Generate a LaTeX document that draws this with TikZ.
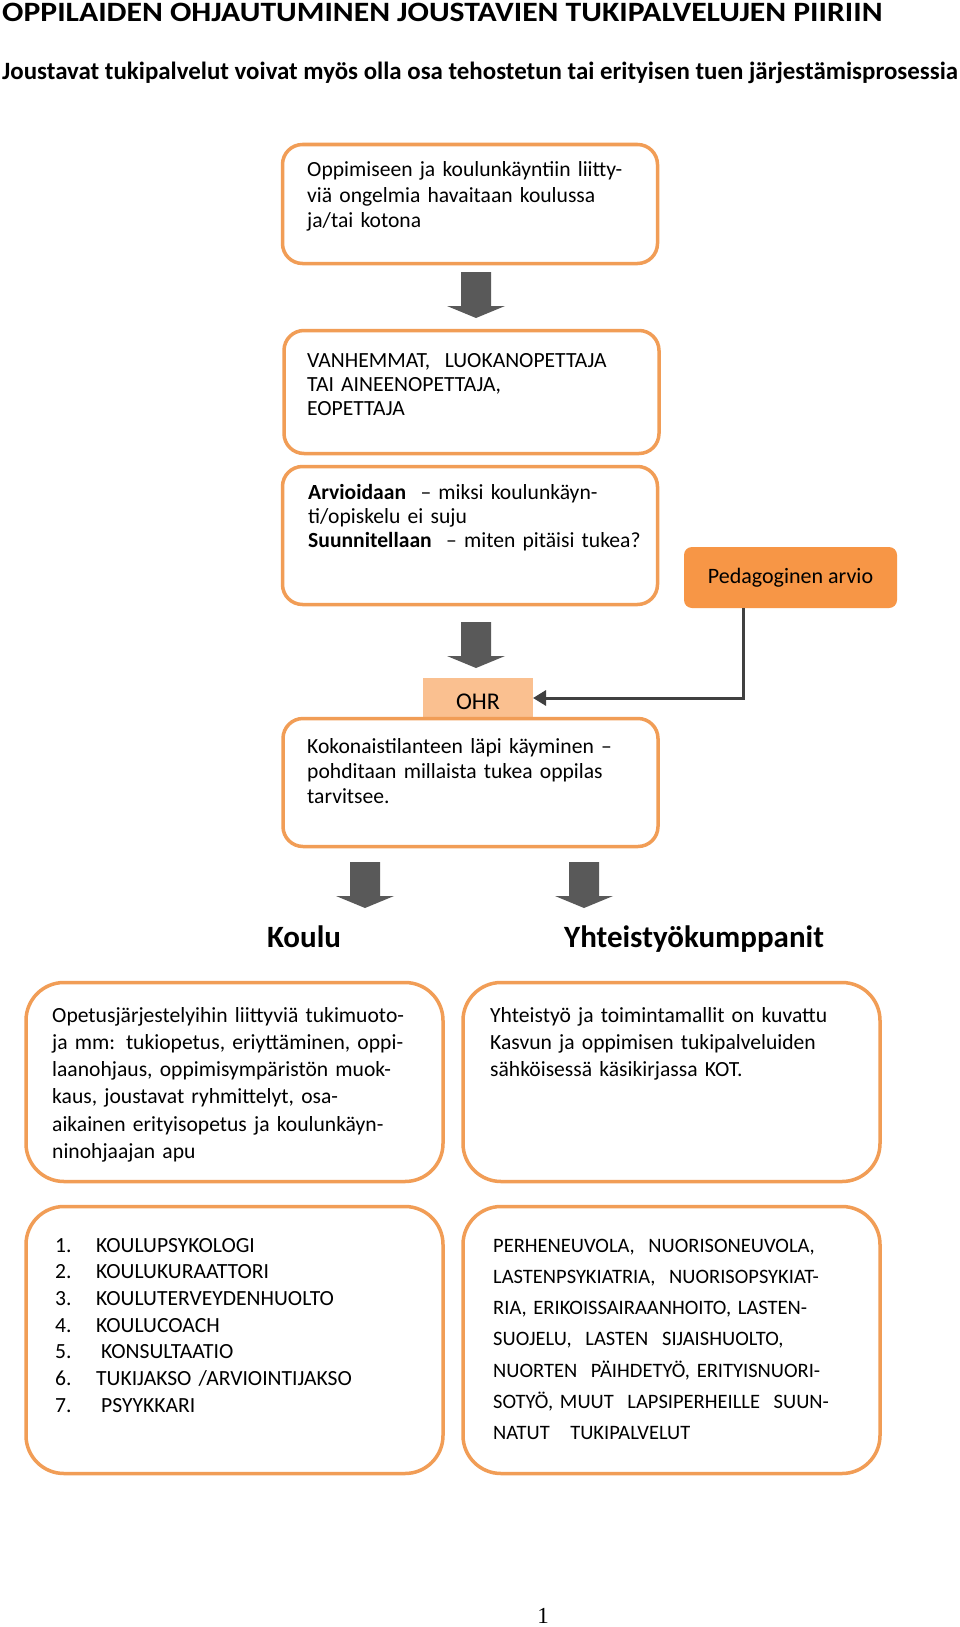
\documentclass[tikz,border=0pt]{standalone}
\usepackage{fontspec}
\setmainfont{Carlito}
\newfontfamily\sivunumerofont{Liberation Serif}
\usepackage{tikz}
\usetikzlibrary{calc,positioning,arrows.meta}
\definecolor{reunaoranssi}{RGB}{241,157,86}
\definecolor{pedaoranssi}{RGB}{247,150,70}
\definecolor{ohroranssi}{RGB}{250,192,144}
\definecolor{nuoliharmaa}{RGB}{89,89,89}
\definecolor{viivaharmaa}{RGB}{64,64,64}
\tikzset{
  laatikko/.style={
      draw=reunaoranssi,
      line width=3.5pt,
      rounded corners=20pt,
      fill=white,
      outer sep=0pt,
      minimum width=375pt,
      minimum height=#1,
  },
  laatikko/.default=123pt,
  isolaatikko/.style={
      laatikko=#1,
      rounded corners=38pt,
      minimum width=417pt,
  },
  teksti/.style={
      anchor=base west,
      align=left,
      text width=400pt,
      inner sep=0pt,
      font=\fontsize{21.6}{#1}\selectfont,
  },
  teksti/.default=25pt,
  otsikko/.style={
      anchor=base,
      inner sep=0pt,
      font=\bfseries\fontsize{31}{36}\selectfont,
  },
  blocknuoli/.pic={
      \fill[nuoliharmaa] (-15,0) -- (15,0) -- (15,34) -- (29,34) -- (0,46)
        -- (-29,34) -- (-15,34) -- cycle;
  },
  yhteys/.style={
      draw=viivaharmaa,
      line width=3pt,
      -{Triangle[length=13pt,width=15pt]},
  },
}
\newcommand{\numero}[1]{\makebox[41pt][l]{#1}}

\begin{document}
\begin{tikzpicture}[x=1pt,y=-1pt]
  \useasboundingbox (0,0) rectangle (960,1627);
  \fill[white] (0,0) rectangle (960,1627);

  % otsikot
  \node[anchor=base west, inner sep=0pt, font=\bfseries\fontsize{28}{32}\selectfont]
    (paaotsikko) at (2,22) {\scalebox{1.13}[1]{OPPILAIDEN OHJAUTUMINEN JOUSTAVIEN TUKIPALVELUJEN PIIRIIN}};
  \node[anchor=base west, inner sep=0pt, font=\bfseries\fontsize{24.9}{28}\selectfont]
    (alaotsikko) at (2,80) {Joustavat tukipalvelut voivat myös olla osa tehostetun tai erityisen tuen järjestämisprosessia};

  % prosessin laatikot
  \node[laatikko=119pt] (havainto) at (470,204) {};
  \node[teksti=25.5pt] (havaintoteksti) at (307,176.5)
    {Oppimiseen ja koulunkäyntiin liitty-\\viä ongelmia havaitaan koulussa\\ja/tai kotona};

  \node[laatikko=123pt] (vanhemmat) at (471.5,392) {};
  \node[teksti=24pt] (vanhemmatteksti) at (307,367)
    {VANHEMMAT,\ \ LUOKANOPETTAJA\\TAI\ AINEENOPETTAJA,\\EOPETTAJA};

  \node[laatikko=138pt] (arviointi) at (470,535.5) {};
  \node[teksti=24pt] (arviointiteksti) at (308,499)
    {\textbf{Arvioidaan}\ \ -- miksi koulunkäyn-\\ti/opiskelu ei suju\\\textbf{Suunnitellaan}\ \ -- miten pitäisi tukea?};

  \node[fill=pedaoranssi, rounded corners=8pt, minimum width=213pt, minimum height=61pt,
    outer sep=0pt, font=\fontsize{22}{26}\selectfont] (pedagoginen) at (790.5,577.5) {Pedagoginen arvio};

  \node[fill=ohroranssi, minimum width=110pt, minimum height=40pt, outer sep=0pt,
    text height=22pt, text depth=0pt,
    font=\fontsize{24}{28}\selectfont] (ohr) at (478,698) {OHR};

  \node[laatikko=128pt] (kokonaistilanne) at (470.5,782.5) {};
  \node[teksti=25pt] (kokonaistilanneteksti) at (307,753)
    {Kokonaistilanteen läpi käyminen --\\pohditaan millaista tukea oppilas\\tarvitsee.};

  % nuolet
  \pic at (476,272) {blocknuoli};
  \pic at (476,622) {blocknuoli};
  \pic at (365,862) {blocknuoli};
  \pic at (584,862) {blocknuoli};
  \draw[yhteys] ([xshift=-47pt]pedagoginen.south) |- (ohr.east);

  \node[otsikko] (koulu) at (304,947) {Koulu};
  \node[otsikko] (kumppanit) at (694,947) {Yhteistyökumppanit};

  % alaosan laatikot
  \node[isolaatikko=199pt] (koulutuki) at (234.5,1082) {};
  \node[teksti=27.3pt] (koulutukiteksti) at (52,1022)
    {Opetusjärjestelyihin liittyviä tukimuoto-\\ja mm: tukiopetus, eriyttäminen, oppi-\\laanohjaus, oppimisympäristön muok-\\kaus, joustavat ryhmittelyt, osa-\\aikainen erityisopetus ja koulunkäyn-\\ninohjaajan apu};

  \node[isolaatikko=199pt] (yhteistyo) at (671.5,1082) {};
  \node[teksti=27.3pt] (yhteistyoteksti) at (490,1022)
    {Yhteistyö ja toimintamallit on kuvattu\\Kasvun ja oppimisen tukipalveluiden\\sähköisessä käsikirjassa KOT.};

  \node[isolaatikko=267pt] (oppilashuolto) at (234.5,1340) {};
  \node[teksti=26.7pt] (oppilashuoltolista) at (55,1252)
    {\numero{1.}KOULUPSYKOLOGI\\
     \numero{2.}KOULUKURAATTORI\\
     \numero{3.}KOULUTERVEYDENHUOLTO\\
     \numero{4.}KOULUCOACH\\
     \numero{5.}\hspace{5pt}KONSULTAATIO\\
     \numero{6.}TUKIJAKSO /ARVIOINTIJAKSO\\
     \numero{7.}\hspace{5pt}PSYYKKARI};

  \node[isolaatikko=267pt] (palvelut) at (671.5,1340) {};
  \node[teksti=31.3pt, font=\fontsize{20.5}{31.3}\selectfont] (palvelutlista) at (493,1252)
    {PERHENEUVOLA,\ \ NUORISONEUVOLA,\\
     LASTENPSYKIATRIA,\ \ NUORISOPSYKIAT-\\
     RIA, ERIKOISSAIRAANHOITO, LASTEN-\\
     SUOJELU,\ \ LASTEN\ \ SIJAISHUOLTO,\\
     NUORTEN\ \ PÄIHDETYÖ, ERITYISNUORI-\\
     SOTYÖ, MUUT\ \ LAPSIPERHEILLE\ \ SUUN-\\
     NATUT\ \ \ TUKIPALVELUT};

  \node[anchor=base, inner sep=0pt, font=\sivunumerofont\fontsize{23}{27}\selectfont]
    (sivunumero) at (543,1623) {1};
\end{tikzpicture}
\end{document}
